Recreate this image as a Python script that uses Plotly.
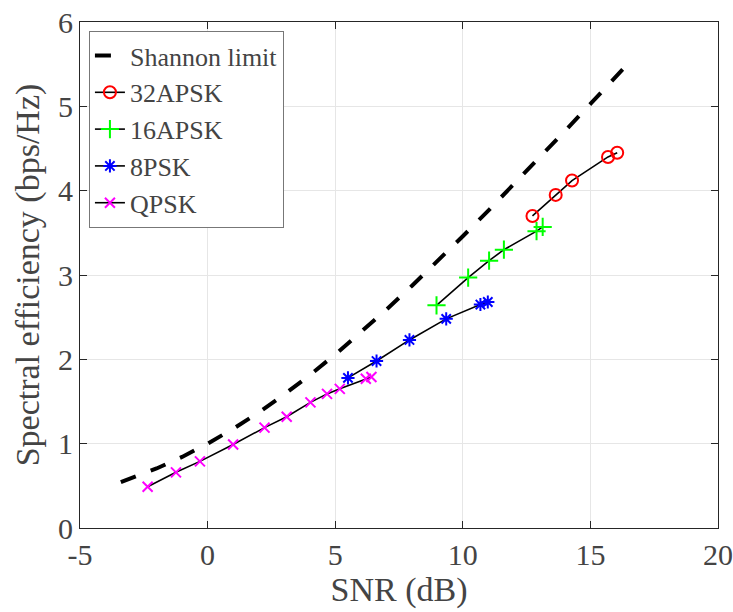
import plotly.graph_objects as go

# Shannon limit
shannon_snr = [-3.4, -3, -2, -1, 0, 1, 2, 3, 4, 5, 6, 7, 8, 9, 10, 11, 12, 13, 14, 15, 16, 16.6]
shannon_eff = [0.543, 0.586, 0.706, 0.843, 1.0, 1.176, 1.370, 1.583, 1.812, 2.057, 2.317, 2.588,
               2.870, 3.161, 3.459, 3.764, 4.075, 4.389, 4.707, 5.028, 5.351, 5.546]

# MODCOD points
apsk32_snr = [12.73, 13.64, 14.28, 15.69, 16.05]
apsk32_eff = [3.70, 3.95, 4.12, 4.40, 4.45]

apsk16_snr = [8.97, 10.21, 11.03, 11.61, 12.89, 13.13]
apsk16_eff = [2.64, 2.97, 3.17, 3.30, 3.52, 3.57]

psk8_snr = [5.50, 6.62, 7.91, 9.35, 10.69, 10.98]
psk8_eff = [1.78, 1.98, 2.23, 2.48, 2.65, 2.68]

qpsk_snr = [-2.35, -1.24, -0.30, 1.00, 2.23, 3.10, 4.03, 4.68, 5.18, 6.20, 6.42]
qpsk_eff = [0.49, 0.66, 0.79, 0.99, 1.19, 1.32, 1.49, 1.59, 1.65, 1.77, 1.79]

x_ticks = [-5, 0, 5, 10, 15, 20]
y_ticks = [0, 1, 2, 3, 4, 5, 6]

FONT = "Liberation Serif"
AX = "#262626"

fig = go.Figure()

fig.add_scatter(
    x=shannon_snr, y=shannon_eff, mode="lines", name="Shannon limit",
    line=dict(color="black", width=4, dash="16px,16px"),
)

series = [
    ("32APSK", apsk32_snr, apsk32_eff, "circle-open", "#FF0000", 12),
    ("16APSK", apsk16_snr, apsk16_eff, "cross-thin-open", "#00FF00", 13),
    ("8PSK", psk8_snr, psk8_eff, "asterisk-open", "#0000FF", 11),
    ("QPSK", qpsk_snr, qpsk_eff, "x-thin-open", "#FF00FF", 10),
]
for name, xs, ys, sym, col, sz in series:
    fig.add_scatter(
        x=xs, y=ys, mode="lines+markers", name=name,
        line=dict(color="black", width=1.6),
        marker=dict(symbol=sym, size=sz, color=col, line=dict(color=col, width=2)),
    )

axis_common = dict(
    showline=True, linecolor=AX, linewidth=1.2, mirror="ticks",
    ticks="inside", ticklen=7, tickcolor=AX, tickwidth=1,
    showgrid=True, gridcolor="#e6e6e6", gridwidth=1,
    zeroline=False, automargin=False, ticklabeloverflow="allow",
    tickfont=dict(family=FONT, size=30),
)

fig.update_xaxes(
    range=[-5, 20], tickvals=x_ticks, ticktext=[str(v) for v in x_ticks],
    title=dict(text="SNR (dB)", font=dict(family=FONT, size=34), standoff=2),
    **axis_common,
)
fig.update_yaxes(
    range=[0, 6], tickvals=y_ticks, ticktext=[str(v) for v in y_ticks],
    title=dict(text="Spectral efficiency (bps/Hz)", font=dict(family=FONT, size=34), standoff=8),
    **axis_common,
)

fig.update_layout(
    template="none",
    width=733, height=612,
    margin=dict(l=80, r=15, t=22, b=84),
    paper_bgcolor="white", plot_bgcolor="white",
    font=dict(family=FONT),
    legend=dict(
        x=0.014, y=0.982, xanchor="left", yanchor="top",
        bgcolor="white", bordercolor="#777777", borderwidth=1,
        font=dict(family=FONT, size=26),
        tracegroupgap=0, itemwidth=30,
    ),
    showlegend=True,
)

# drop the browser's default 8px body margin so the figure sits at the page corner
fig.write_html("out.html", config={"displayModeBar": False},
               post_script="document.body.style.margin='0';")
